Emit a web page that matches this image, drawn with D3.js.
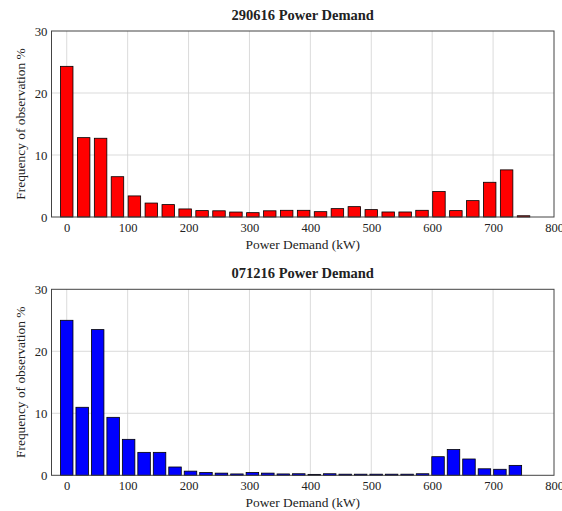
<!DOCTYPE html>
<html><head><meta charset="utf-8">
<script src="https://cdn.jsdelivr.net/npm/d3@7"></script>
<style>body{margin:0;background:#fff}svg{display:block}text{font-family:"Liberation Serif","DejaVu Serif",serif;fill:#222}</style>
</head><body><svg id="c" width="562" height="511"></svg>
<script>
const titles = ["290616 Power Demand", "071216 Power Demand"];
const xLabel = "Power Demand (kW)";
const yLabel = "Frequency of observation %";
const xTicks = [0, 100, 200, 300, 400, 500, 600, 700, 800];
const yTicks = [0, 10, 20, 30];
const colors = ["#ff0000", "#0000ff"];

const bins1 = [0, 27.8, 55.6, 83.3, 111.1, 138.9, 166.7, 194.4, 222.2, 250, 277.8, 305.6, 333.3, 361.1, 388.9, 416.7, 444.4, 472.2, 500, 527.8, 555.6, 583.3, 611.1, 638.9, 666.7, 694.4, 722.2, 750];
const freq1 = [24.3, 12.8, 12.7, 6.5, 3.4, 2.25, 2.0, 1.3, 1.03, 1.0, 0.8, 0.7, 1.0, 1.08, 1.08, 0.86, 1.35, 1.67, 1.19, 0.81, 0.81, 1.08, 4.1, 1.03, 2.64, 5.6, 7.6, 0.2];

const bins2 = [0, 25.4, 50.8, 76.2, 101.6, 127, 152.4, 177.8, 203.2, 228.6, 254, 279.4, 304.8, 330.2, 355.6, 381, 406.4, 431.8, 457.2, 482.6, 508, 533.4, 558.8, 584.2, 609.6, 635, 660.4, 685.8, 711.2, 736.6];
const freq2 = [25.0, 10.97, 23.5, 9.35, 5.8, 3.7, 3.7, 1.34, 0.67, 0.45, 0.35, 0.22, 0.45, 0.35, 0.22, 0.25, 0.15, 0.25, 0.18, 0.18, 0.18, 0.18, 0.18, 0.25, 3.0, 4.15, 2.63, 1.05, 0.97, 1.6];

const svg = d3.select("#c");
const L = 51.5, R = 554, barW = 12.5;
const panels = [
  {top: 31, bottom: 217, bins: bins1, freq: freq1, title: titles[0], color: colors[0]},
  {top: 289.3, bottom: 475.3, bins: bins2, freq: freq2, title: titles[1], color: colors[1]}
];

panels.forEach(p => {
  const x = d3.scaleLinear().domain([-25, 800]).range([L, R]);
  const y = d3.scaleLinear().domain([0, 30]).range([p.bottom, p.top]);
  const g = svg.append("g");
  // grid
  g.selectAll("line.gx").data(xTicks.filter(t => t < 800)).join("line")
    .attr("x1", d => x(d)).attr("x2", d => x(d)).attr("y1", p.top).attr("y2", p.bottom)
    .attr("stroke", "#d2d2d2").attr("stroke-width", 0.8);
  g.selectAll("line.gy").data(yTicks.filter(t => t > 0 && t < 30)).join("line")
    .attr("x1", L).attr("x2", R).attr("y1", d => y(d)).attr("y2", d => y(d))
    .attr("stroke", "#d2d2d2").attr("stroke-width", 0.8);
  // bars
  g.selectAll("rect.bar").data(p.freq).join("rect")
    .attr("x", (d, i) => x(p.bins[i]) - barW / 2)
    .attr("width", barW)
    .attr("y", d => y(d))
    .attr("height", d => y(0) - y(d))
    .attr("fill", p.color).attr("stroke", "#000").attr("stroke-width", 0.8);
  // frame
  g.append("rect").attr("x", L).attr("y", p.top).attr("width", R - L).attr("height", p.bottom - p.top)
    .attr("fill", "none").attr("stroke", "#444").attr("stroke-width", 1);
  // axes
  const xa = d3.axisBottom(x).tickValues(xTicks).tickSize(0).tickPadding(0);
  const ga = g.append("g").attr("transform", `translate(0,${p.bottom})`).call(xa);
  ga.select(".domain").remove();
  ga.selectAll("text").attr("dy", null).attr("y", 14.5).style("font-size", "12.5px").style("fill", "#222");
  const ya = d3.axisLeft(y).tickValues(yTicks).tickSize(0).tickPadding(0);
  const gy = g.append("g").attr("transform", `translate(${L - 4},0)`).call(ya);
  gy.select(".domain").remove();
  gy.selectAll("text").attr("dy", "0.35em").style("font-size", "12.8px").style("fill", "#222");
  // labels
  g.append("text").attr("x", (L + R) / 2).attr("y", p.top - 11.5).attr("text-anchor", "middle")
    .style("font-size", "14.5px").style("font-weight", "bold").text(p.title);
  g.append("text").attr("x", (L + R) / 2).attr("y", p.bottom + 32).attr("text-anchor", "middle")
    .style("font-size", "13.4px").text(xLabel);
  g.append("text").attr("transform", `translate(25,${(p.top + p.bottom) / 2}) rotate(-90)`)
    .attr("text-anchor", "middle").style("font-size", "13.4px").text(yLabel);
});
</script></body></html>
